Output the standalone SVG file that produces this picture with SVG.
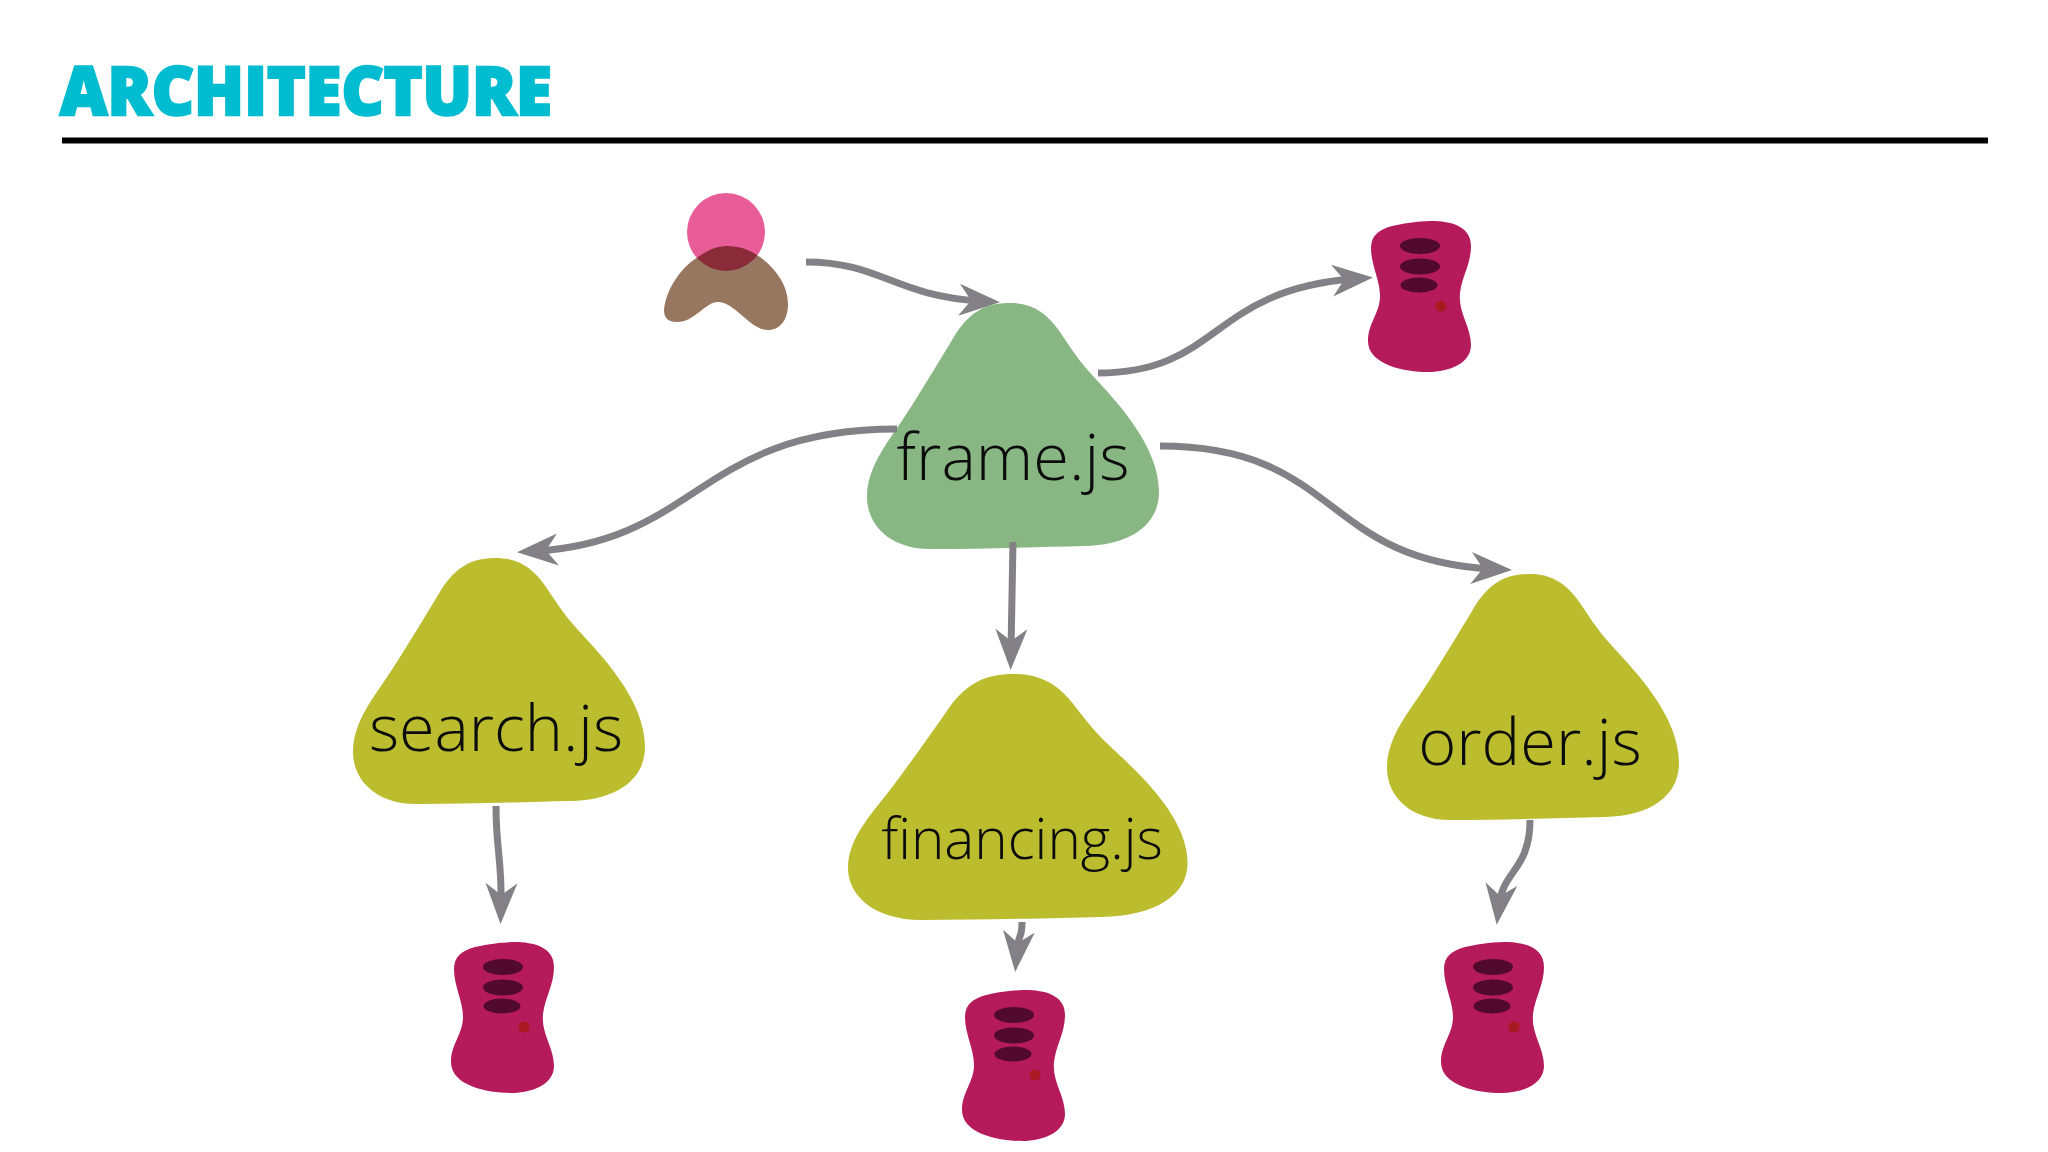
<svg xmlns="http://www.w3.org/2000/svg" width="2048" height="1152" viewBox="0 0 2048 1152">
<style>
.title{font-family:"Open Sans","Noto Sans",sans-serif;font-weight:800;font-size:68px;fill:#00bcd0;stroke:#00bcd0;stroke-width:2.5px}
.lbl{font-family:"Open Sans","Noto Sans",sans-serif;font-weight:300;fill:#0c0c0c;text-anchor:middle}
.conn{fill:none;stroke:#838185;stroke-width:7;marker-end:url(#arrow)}
.green{fill:#88b784}.olive{fill:#bbbd2f}
.srv{fill:#b51b5b}.slot{fill:#520a2c}.led{fill:#a81a22}
</style>
<defs>
<marker id="arrow" viewBox="0 0 41 34" refX="21" refY="17" markerWidth="41" markerHeight="34" markerUnits="userSpaceOnUse" orient="auto">
<path d="M0 1L41 17L0 33L12 17Z" fill="#838185"/>
</marker>
<path id="tri" d="M1010 303C1032 303 1047 313 1060 332C1072 350 1080 362 1093 376C1115 400 1159 445 1159 492C1159 525 1130 545 1085 546C1040 547 985 549 930 549C890 549 867 525 867 497C867 465 890 440 907 413C925 385 940 360 955 335C970 312 985 303 1010 303Z"/>
<g id="server">
<path class="srv" d="M1371 248C1371 236 1378 230 1392 226C1410 222 1422 221 1435 221C1455 222 1471 228 1471 246C1471 264 1462 276 1460 293C1458 313 1471 326 1471 345C1471 363 1450 372 1428 372C1405 372 1368 365 1368 341C1368 323 1380 313 1380 296C1380 280 1371 265 1371 248Z"/>
<ellipse class="slot" cx="1420" cy="246" rx="20" ry="8"/>
<ellipse class="slot" cx="1420" cy="266.500" rx="20" ry="8"/>
<ellipse class="slot" cx="1419" cy="285" rx="18.500" ry="7.500"/>
<circle class="led" cx="1441" cy="306" r="5.500"/>
</g>
</defs>
<rect width="2048" height="1152" fill="#fff"/>
<g id="heading">
<text class="title" x="60" y="115" textLength="492" lengthAdjust="spacingAndGlyphs">ARCHITECTURE</text>
<rect x="62" y="137.500" width="1926" height="6" fill="#000"/>
</g>
<g id="user">
<path d="M664 310C666 290 680 268 698 257C708 250 717 246 727 246C740 246 750 250 760 257C775 268 788 285 788 304C788 320 780 330 768 330C750 330 735 302 718 302C705 302 695 322 677 322C668 322 664 318 664 310Z" fill="#987760"/>
<circle cx="726" cy="232" r="39" fill="#e85c97" style="mix-blend-mode:multiply"/>
</g>
<g id="frame"><use href="#tri" class="green"/><text class="lbl" x="1013" y="480" font-size="65">frame.js</text></g>
<g id="search"><use href="#tri" class="olive" transform="translate(-514 255)"/><text class="lbl" x="496" y="751" font-size="64.700">search.js</text></g>
<g id="financing"><use href="#tri" class="olive" transform="translate(848 674) scale(1.163 1) translate(-867 -303)"/><text class="lbl" x="1022" y="859" font-size="56.600">financing.js</text></g>
<g id="order"><use href="#tri" class="olive" transform="translate(520 271)"/><text class="lbl" x="1530" y="765" font-size="65">order.js</text></g>
<g id="db-frame"><use href="#server"/></g>
<g id="db-search"><use href="#server" transform="translate(-917 721)"/></g>
<g id="db-financing"><use href="#server" transform="translate(-406 769)"/></g>
<g id="db-order"><use href="#server" transform="translate(73 721)"/></g>
<g id="connectors">
<path class="conn" d="M806 262C880 262 895 296 980 301"/>
<path class="conn" d="M1098 373C1220 373 1210 290 1353 279"/>
<path class="conn" d="M897 429C700 429 700 540 537 551"/>
<path class="conn" d="M1013 542L1011 650"/>
<path class="conn" d="M1160 446C1340 446 1320 560 1492 569"/>
<path class="conn" d="M496 806C496 850 502 860 501 904"/>
<path class="conn" d="M1022 922C1022 940 1019 930 1017 952"/>
<path class="conn" d="M1530 820C1530 870 1503 870 1499 905"/>
</g>
</svg>
